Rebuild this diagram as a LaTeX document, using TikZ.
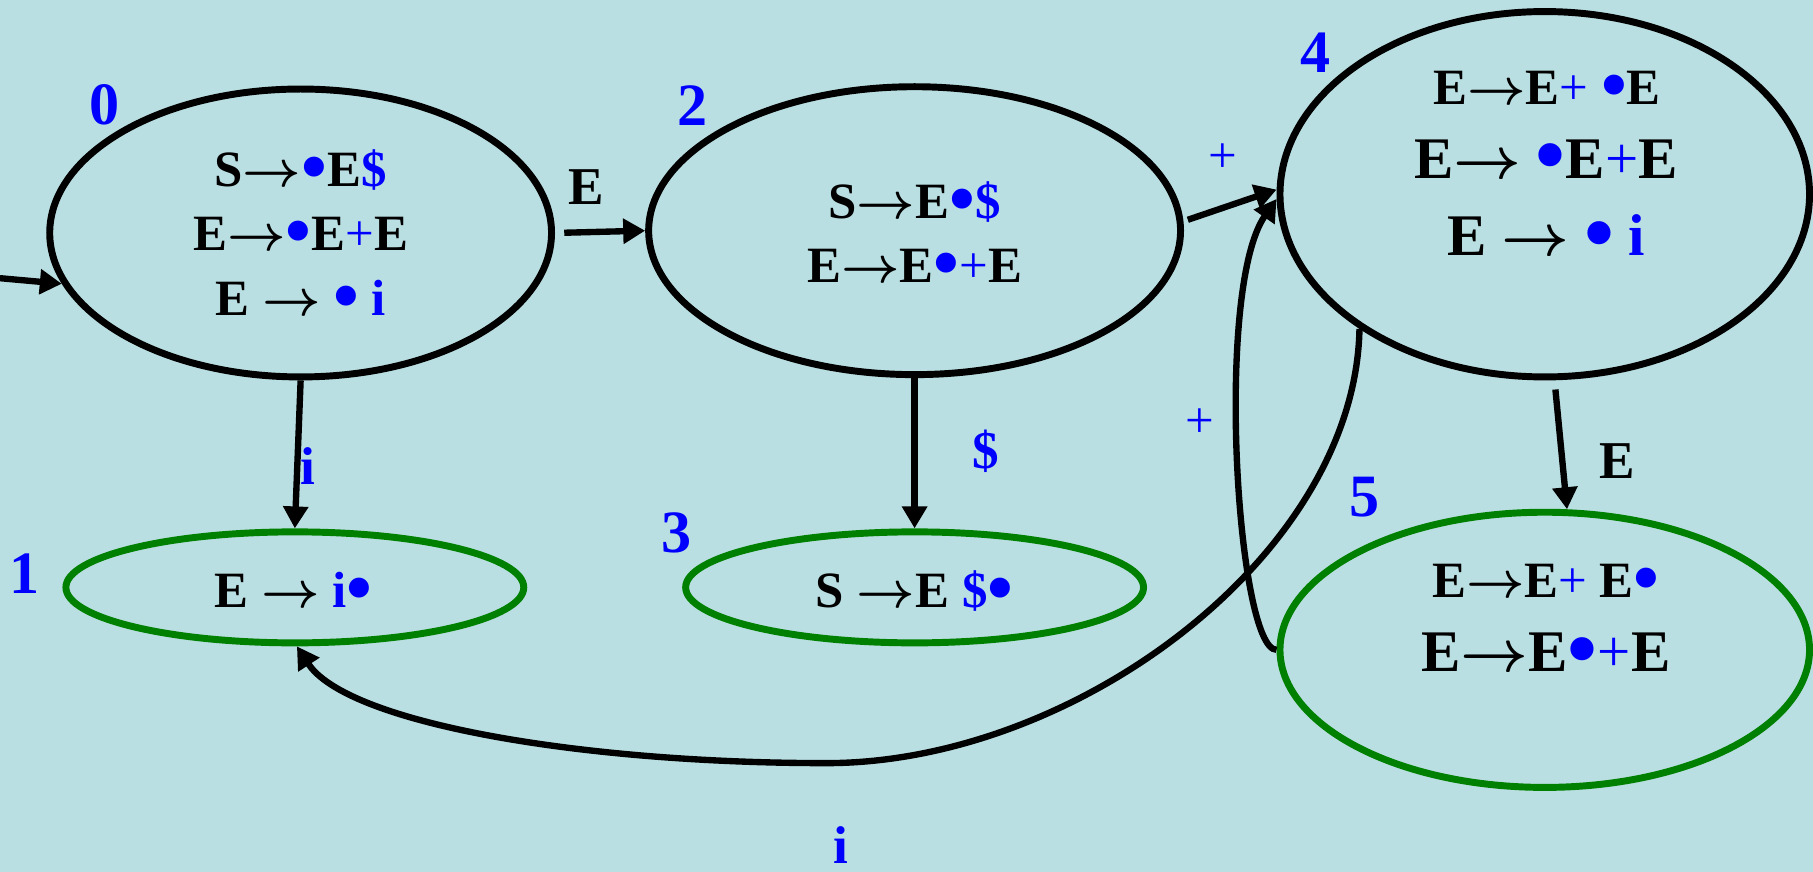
\RequirePackage{fix-cm}
\documentclass[tikz,border=0pt]{standalone}
\usepackage{fontspec}
\setmainfont{Liberation Serif}
\usepackage{graphicx}
\usetikzlibrary{shapes.geometric,arrows.meta}
\definecolor{bgc}{RGB}{186,223,226}
\definecolor{dgreen}{RGB}{0,128,0}
\definecolor{pblue}{RGB}{0,0,255}
\newcommand\bd{\textcolor{pblue}{\smash{\raisebox{-0.1em}{\scalebox{1.45}{•}}}}}
\newcommand\bl[1]{\textcolor{pblue}{#1}}
\newcommand\pl{\textcolor{pblue}{\mdseries +}}
\newcommand\ra{\ensuremath{\rightarrow}}
\begin{document}
\begin{tikzpicture}[x=1pt,y=-1pt,
  stb/.style={draw=black,ellipse,line width=6pt,inner sep=0pt},
  stg/.style={draw=dgreen,ellipse,line width=6pt,inner sep=0pt},
  txt/.style={anchor=base,inner sep=0pt,font=\fontsize{44}{52}\selectfont\bfseries\boldmath},
  bigtxt/.style={anchor=base,inner sep=0pt,font=\fontsize{51}{58}\selectfont\bfseries\boldmath},
  num/.style={inner sep=0pt,text=pblue,font=\fontsize{52}{60}\selectfont\bfseries},
  lab/.style={inner sep=0pt,font=\fontsize{46}{55}\selectfont\bfseries},
  plab/.style={inner sep=0pt,text=pblue,font=\fontsize{44}{50}\selectfont},
  arr/.style={line width=5.5pt,-{Triangle[length=19pt,width=21pt]}}]
\fill[bgc] (0,0) rectangle (1568,754);
\useasboundingbox (0,0) rectangle (1568,754);
% states
\node[stb,minimum width=434pt,minimum height=249pt] (e0) at (260,201.5) {};
\node[stb,minimum width=460pt,minimum height=249pt] (e2) at (791,199.5) {};
\node[stb,minimum width=458pt,minimum height=316pt] (e4) at (1336,168) {};
\node[stg,minimum width=396pt,minimum height=96pt] (e1) at (255,508) {};
\node[stg,minimum width=396pt,minimum height=96pt] (e3) at (791,508) {};
\node[stg,minimum width=458pt,minimum height=238pt] (e5) at (1336,562) {};
% items
\node[txt] (t0a) at (260,161.5) {S\ra\bd E\bl{\$}};
\node[txt] (t0b) at (260,217) {E\ra\bd E\pl E};
\node[txt] (t0c) at (260,272.5) {E \ra\ \bd\ \bl{i}};
\node[txt] (t2a) at (791,189) {S\ra E\bd\bl{\$}};
\node[txt] (t2b) at (791,244) {E\ra E\bd\pl E};
\node[txt] (t4a) at (1338,90) {E\ra E\pl\ \bd E};
\node[bigtxt] (t4b) at (1337,154) {E\ra\ \bd E\pl E};
\node[bigtxt] (t4c) at (1337.5,221) {E \ra\ \bd\ \bl{i}};
\node[txt] (t1) at (254,525) {E \ra\ \bl{i}\bd};
\node[txt] (t3) at (791,525) {S \ra E \bl{\$}\bd};
\node[txt] (t5a) at (1337,517) {E\ra E\pl\ E\bd};
\node[bigtxt] (t5b) at (1337,581) {E\ra E\bd\pl E};
% state numbers
\node[num] (n0) at (90,91) {0};
\node[num] (n2) at (599,91) {2};
\node[num] (n4) at (1138,46) {4};
\node[num] (n1) at (21,496) {1};
\node[num] (n3) at (585,461) {3};
\node[num] (n5) at (1180,430) {5};
% transitions
\coordinate (st) at (0,240.6);
\draw[arr] (st) -- (e0.192);
\draw[arr,shorten <=8pt] (e0.east) -- (e2.west);
\draw[arr,shorten <=4pt] (e2.2) -- (e4.179);
\draw[arr] (e0.south) -- (e1.north);
\draw[arr] (e2.south) -- (e3.north);
\draw[arr,shorten <=8pt] (e4.-87) -- (e5.81);
\draw[arr] (e5.180) .. controls (1070,562) and (1050,250) .. (e4.181);
\coordinate (bot) at (715,660);
\draw[arr] (e4.216) .. controls (1172,480) and (930,660) .. (bot)
  .. controls (500,660) and (300,625) .. (e1.-88);
% transition labels
\node[lab] (l02) at (507,162) {E};
\node[plab] (l24) at (1058,137) {+};
\node[lab,text=pblue] (l01) at (266,403) {i};
\node[lab,text=pblue] (l23) at (853,390) {\$};
\node[lab] (l45) at (1399,399) {E};
\node[plab] (l54) at (1037.5,366) {+};
\node[lab,text=pblue] (l41) at (727,731) {i};
\end{tikzpicture}
\end{document}
